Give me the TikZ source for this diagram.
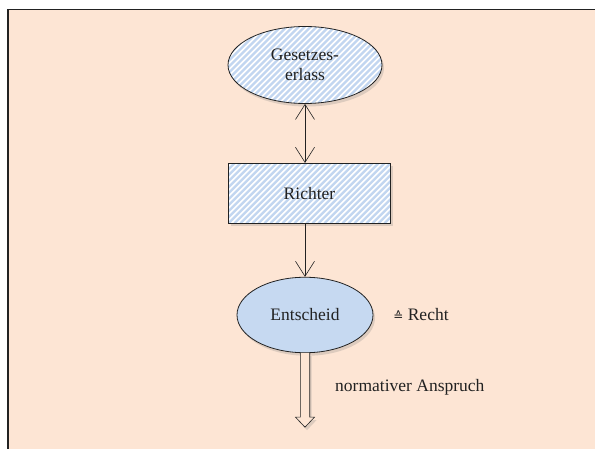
\documentclass[tikz,border=0pt]{standalone}
\usepackage{fontspec}
\setmainfont{Liberation Serif}
\newfontfamily\dejavu{DejaVu Sans}
\usetikzlibrary{shapes.geometric,arrows.meta,shadows}
\definecolor{bg}{HTML}{FDE5D4}
\definecolor{stripeblue}{HTML}{C2D6F0}
\definecolor{fillblue}{HTML}{C6D9F1}
\definecolor{ink}{HTML}{222222}
\tikzset{
  txt/.style={font=\fontsize{17.5}{19.5}\selectfont, text=ink},
  shade3/.style={drop shadow={shadow xshift=2pt, shadow yshift=-3pt, opacity=0.25}},
  hatch/.style={shade3, fill=white, draw=ink, line width=0.8pt,
    path picture={\foreach \i in {-15,...,30}{\draw[stripeblue, line width=2.3pt] ([xshift=\i*6pt]path picture bounding box.south west) -- ++(130pt,130pt);}}},
  ell/.style={ellipse, inner sep=0pt, align=center, txt},
  conn/.style={draw=ink, line width=0.6pt},
}
\begin{document}
\begin{tikzpicture}[x=1pt,y=1pt]
\clip (0,0) rectangle (595,448);
\fill[white] (0,0) rectangle (595,448);
\draw[fill=bg, line width=1.2pt, draw=ink] (8,438.5) rectangle (620,-20);

\node[ell, hatch, minimum width=154pt, minimum height=77pt] (G) at (305,383) {Gesetzes-\\erlass};
\node[rectangle, hatch, txt, minimum width=162pt, minimum height=60pt, inner sep=0pt] (R) at (309.5,254.7) {Richter};
\node[ell, shade3, fill=fillblue, draw=ink, line width=0.8pt, minimum width=136pt, minimum height=75.5pt] (E) at (305,133) {Entscheid};

\node[txt, anchor=center] (Recht) at (421,133) {{\dejavu\fontsize{12}{12}\selectfont ≙} Recht};
\node[txt, anchor=west, inner sep=0pt] (NA) at (335,60.7) {normativer Anspruch};

\draw[conn, {Straight Barb[length=15pt,width=19pt]}-{Straight Barb[length=15pt,width=19pt]}] (G.south) -- (G.south |- R.north);
\draw[conn, -{Straight Barb[length=15pt,width=19pt]}] (G.south |- R.south) -- (E.north);

\coordinate (ha) at (E.south);
\draw[conn, fill=bg, shade3, line join=miter]
  ([xshift=-4.7pt]ha) -- ([xshift=-4.7pt,yshift=-64pt]ha) -- ([xshift=-9.5pt,yshift=-64pt]ha)
  -- ([yshift=-74pt]ha) -- ([xshift=9.5pt,yshift=-64pt]ha) -- ([xshift=4.7pt,yshift=-64pt]ha)
  -- ([xshift=4.7pt]ha);
\end{tikzpicture}
\end{document}
